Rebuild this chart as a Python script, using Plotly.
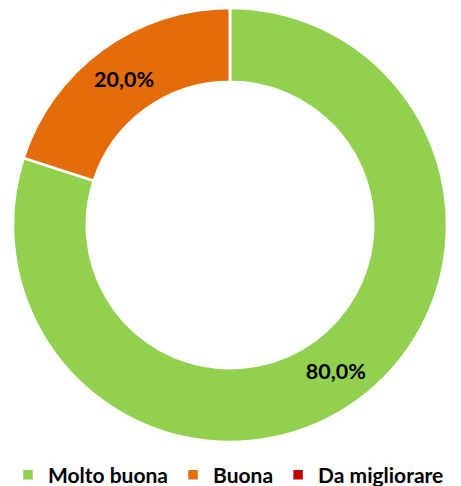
import plotly.graph_objects as go

categories = ["Molto buona", "Buona", "Da migliorare"]
values = [80.0, 20.0, 0.0]
colors = ["#92D050", "#E46C0A", "#C00000"]

labels_txt = [f"{v:.1f}%".replace(".", ",") if v > 0 else "" for v in values]

# The page body has an 8px default margin, so the figure is sized to fit
W, H = 453, 478
cx, cy, R = 222.0, 217.0, 217.0

fig = go.Figure(go.Pie(
    labels=categories,
    values=values,
    text=labels_txt,
    textinfo="text",
    textposition="inside",
    insidetextorientation="horizontal",
    hole=0.66,
    sort=False,
    direction="clockwise",
    rotation=0,
    domain=dict(x=[(cx - R) / W, (cx + R) / W],
                y=[(H - (cy + R)) / H, (H - (cy - R)) / H]),
    marker=dict(colors=colors, line=dict(color="white", width=2.5)),
    textfont=dict(family="Lato", size=21.5, color="black", weight="bold"),
))

fig.update_layout(
    width=W, height=H,
    margin=dict(l=0, r=0, t=0, b=0, autoexpand=False),
    paper_bgcolor="white",
    plot_bgcolor="white",
    showlegend=True,
    legend=dict(
        orientation="h",
        x=0.0, xanchor="left",
        y=(H - 467) / H, yanchor="middle",
        font=dict(family="Lato", size=21, color="black", weight="bold"),
        itemwidth=30,
        traceorder="normal",
    ),
)

fig.write_html("out.html")
